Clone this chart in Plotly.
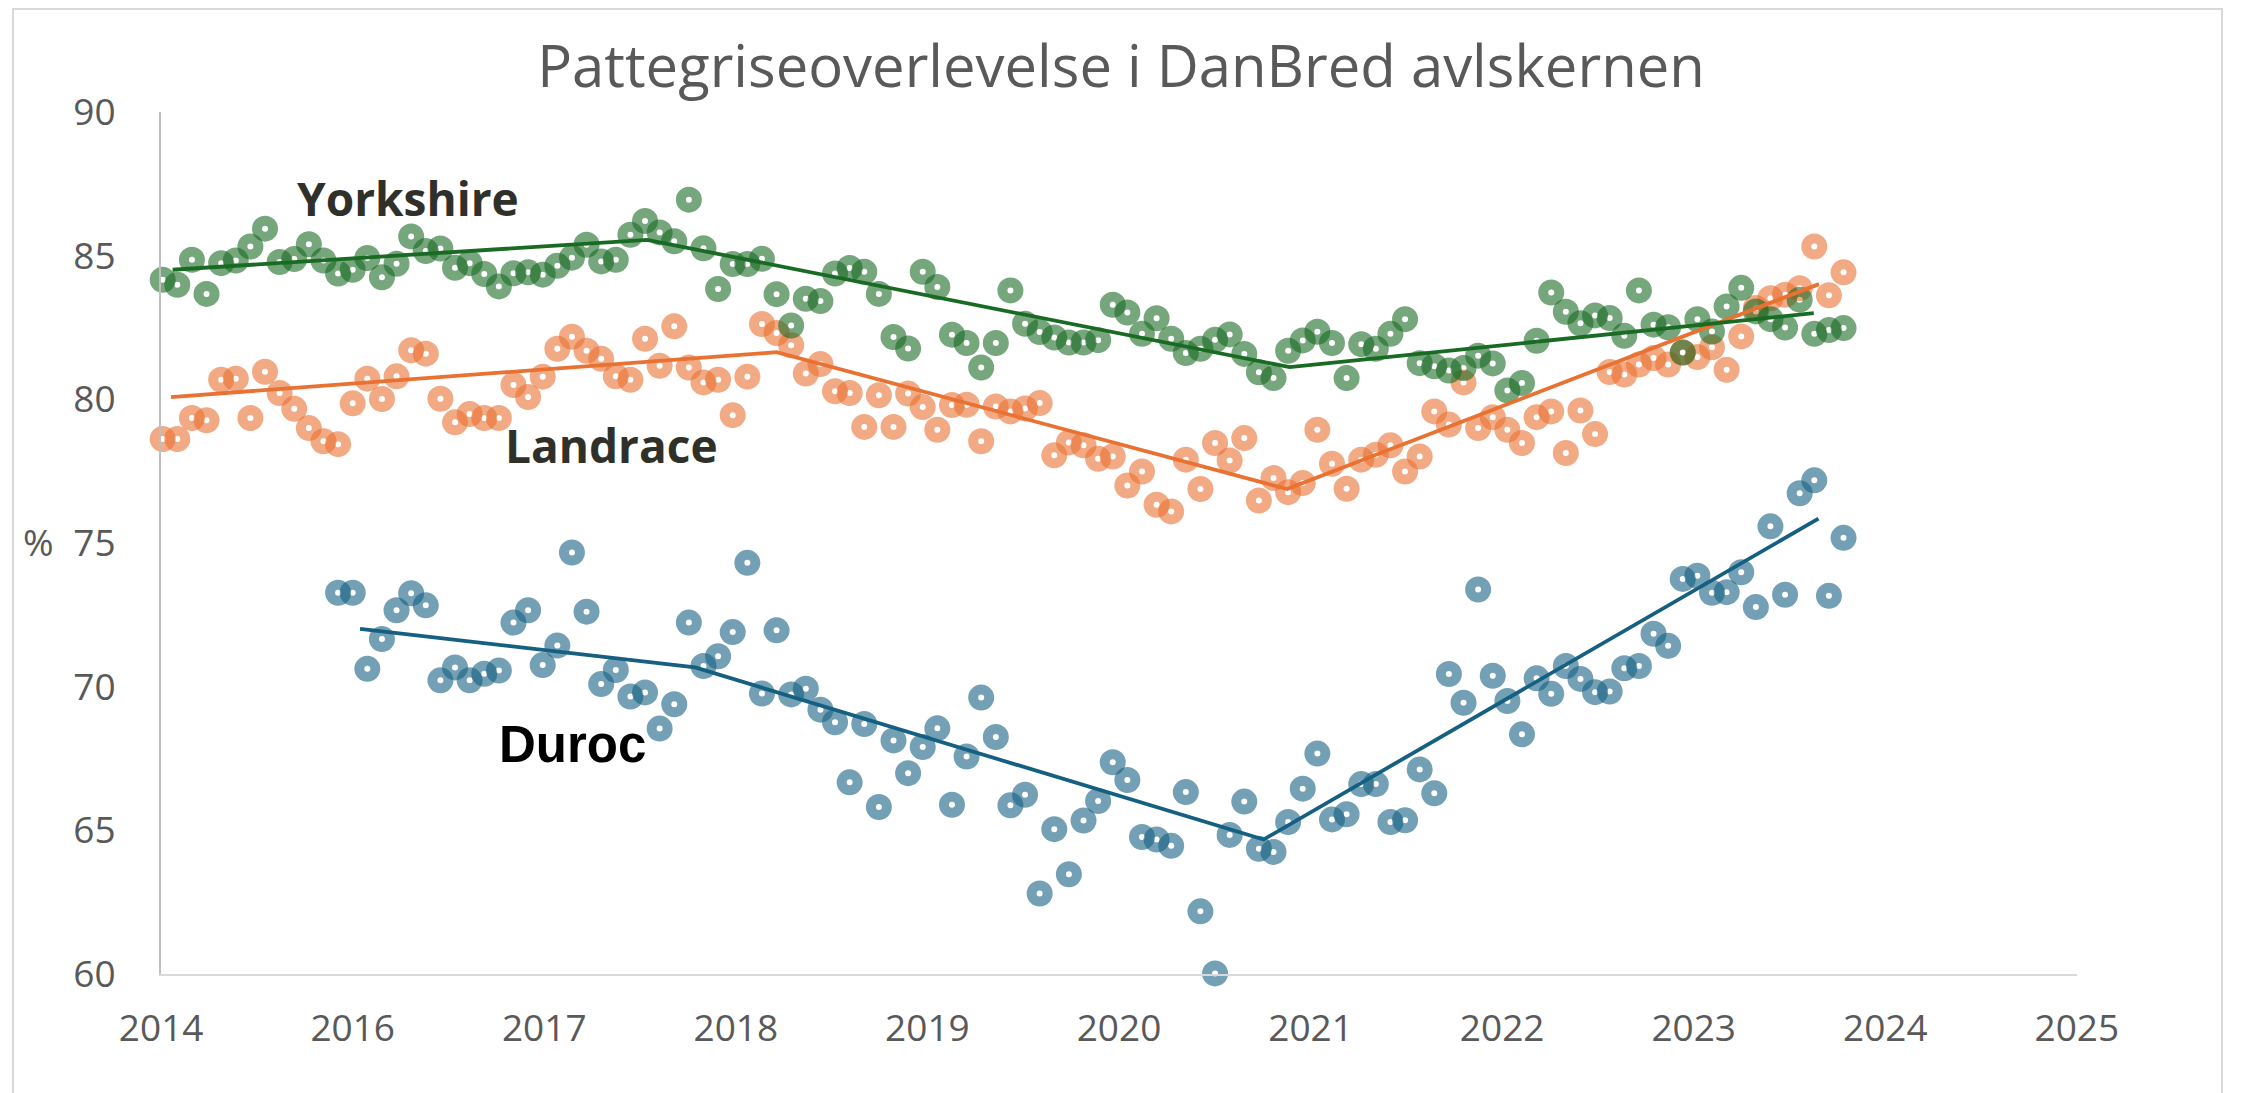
import plotly.graph_objects as go
import pandas as pd

# ---------------- data ----------------
yorkshire = [84.16, 83.99, 84.86, 83.67, 84.74, 84.83, 85.32, 85.94, 84.78, 84.88,
             85.40, 84.83, 84.38, 84.51, 84.92, 84.25, 84.72, 85.67, 85.16, 85.25,
             84.58, 84.74, 84.36, 83.93, 84.39, 84.42, 84.34, 84.65, 84.93, 85.38,
             84.80, 84.86, 85.73, 86.21, 85.81, 85.50, 86.95, 85.26, 83.84, 84.71,
             84.71, 84.89, 83.66, 82.57, 83.50, 83.42, 84.38, 84.57, 84.44, 83.67,
             82.17, 81.77, 84.44, 83.91, 82.25, 81.96, 81.11, 81.96, 83.79, 82.63,
             82.34, 82.15, 81.98, 81.98, 82.06, 83.29, 83.02, 82.28, 82.82, 82.11,
             81.61, 81.76, 82.07, 82.26, 81.58, 80.94, 80.74, 81.69, 82.05, 82.35,
             81.96, 80.74, 81.92, 81.76, 82.28, 82.79, 81.26, 81.15, 81.00, 81.09,
             81.52, 81.25, 80.31, 80.57, 82.04, 83.72, 83.05, 82.65, 82.92, 82.83,
             82.21, 83.79, 82.60, 82.51, 81.63, 82.79, 82.36, 83.23, 83.88, 83.06,
             82.79, 82.50, 83.47, 82.28, 82.41, 82.48]

landrace = [78.62, 78.62, 79.35, 79.27, 80.68, 80.72, 79.35, 80.96, 80.22, 79.67,
            79.00, 78.54, 78.44, 79.86, 80.72, 80.01, 80.80, 81.71, 81.59, 80.02,
            79.20, 79.49, 79.35, 79.35, 80.50, 80.08, 80.79, 81.76, 82.18, 81.69,
            81.41, 80.80, 80.68, 82.11, 81.17, 82.54, 81.11, 80.59, 80.68, 79.45,
            80.79, 82.62, 82.31, 81.88, 80.90, 81.23, 80.28, 80.22, 79.04, 80.14,
            79.04, 80.20, 79.73, 78.94, 79.80, 79.81, 78.54, 79.75, 79.58, 79.68,
            79.87, 78.05, 78.50, 78.40, 77.93, 78.01, 77.00, 77.49, 76.33, 76.10,
            77.90, 76.88, 78.48, 77.87, 78.65, 76.48, 77.26, 76.77, 77.09, 78.94,
            77.76, 76.89, 77.90, 78.07, 78.40, 77.49, 78.01, 79.58, 79.12, 80.59,
            79.00, 79.38, 78.94, 78.48, 79.38, 79.58, 78.13, 79.61, 78.79, 80.95,
            80.86, 81.21, 81.44, 81.21, 81.63, 81.47, 81.81, 81.03, 82.19, 83.18,
            83.52, 83.64, 83.87, 85.32, 83.62, 84.42]

duroc = [73.27, 73.27, 70.62, 71.66, 72.66, 73.25, 72.83, 70.22, 70.67, 70.22,
         70.45, 70.56, 72.23, 72.66, 70.75, 71.43, 74.67, 72.61, 70.09, 70.58,
         69.66, 69.80, 68.54, 69.39, 72.23, 70.72, 71.06, 71.90, 74.31, 69.76,
         71.96, 69.73, 69.93, 69.20, 68.76, 66.67, 68.70, 65.81, 68.13, 66.99,
         67.90, 68.55, 65.89, 67.57, 69.62, 68.25, 65.87, 66.24, 62.80, 65.04,
         63.47, 65.34, 66.02, 67.37, 66.75, 64.77, 64.68, 64.46, 66.33, 62.18,
         60.02, 64.84, 66.00, 64.36, 64.25, 65.29, 66.45, 67.67, 65.38, 65.56,
         66.61, 66.61, 65.29, 65.35, 67.12, 66.29, 70.44, 69.44, 73.38, 70.38,
         69.50, 68.34, 70.29, 69.75, 70.72, 70.27, 69.81, 69.83, 70.64, 70.72,
         71.84, 71.42, 73.75, 73.86, 73.27, 73.29, 73.98, 72.77, 75.58, 73.20,
         76.73, 77.18, 73.16, 75.18]

# 4-week periods; Yorkshire/Landrace start early Jan 2015, Duroc 12 periods later
first_period = "2015-01-03"
period_length = "28D"
duroc_first_period = "2015-12-05"

# broken-stick trend lines (vertices)
yorkshire_trend_x = ["2015-01-22", "2017-07-19", "2020-12-01", "2023-09-01"]
yorkshire_trend_y = [84.51, 85.55, 81.12, 83.00]
landrace_trend_x = ["2015-01-19", "2018-03-24", "2020-11-26", "2023-09-11"]
landrace_trend_y = [80.08, 81.64, 76.88, 84.01]
duroc_trend_x = ["2016-01-16", "2017-10-19", "2020-10-12", "2023-09-10"]
duroc_trend_y = [72.01, 70.67, 64.68, 75.85]

title = "Pattegriseoverlevelse i DanBred avlskernen"
y_title = "%"
series_names = ["Yorkshire", "Landrace", "Duroc"]

# x axis: Excel-like date axis, min 2014-12-31, major unit 367 days
x_axis_start = "2014-12-30 18:00"
x_axis_end = "2025-01-17 06:00"
x_tick0 = "2014-12-31"
x_tick_days = 367

# ---------------- styling ----------------
col_y = "#196B24"
col_l = "#E97132"
col_d = "#156082"
grey = "#595959"

yk_dates = pd.date_range(first_period, periods=len(yorkshire), freq=period_length)
ld_dates = pd.date_range(first_period, periods=len(landrace), freq=period_length)
dr_dates = pd.date_range(duroc_first_period, periods=len(duroc), freq=period_length)

fig = go.Figure()

def markers(x, y, color, name):
    return go.Scatter(
        x=x, y=y, mode="markers", name=name, cliponaxis=False,
        marker=dict(symbol="circle-open", size=16, color=color, opacity=0.6,
                    line=dict(width=10, color=color)),
        hoverinfo="x+y",
    )

def trend(x, y, color, name):
    return go.Scatter(x=x, y=y, mode="lines", name=name + " trend",
                      line=dict(color=color, width=3.8), cliponaxis=False)

fig.add_trace(markers(dr_dates, duroc, col_d, "Duroc"))
fig.add_trace(markers(ld_dates, landrace, col_l, "Landrace"))
fig.add_trace(markers(yk_dates, yorkshire, col_y, "Yorkshire"))
fig.add_trace(trend(duroc_trend_x, duroc_trend_y, col_d, "Duroc"))
fig.add_trace(trend(landrace_trend_x, landrace_trend_y, col_l, "Landrace"))
fig.add_trace(trend(yorkshire_trend_x, yorkshire_trend_y, col_y, "Yorkshire"))

# page is 2242x1093; the html body has an 8 px default margin
OFF = 8
W, H = 2242 - OFF, 1093 - OFF
PLOT_L, PLOT_R, PLOT_T, PLOT_B = 161, 2077, 112, 974   # page coordinates
L, T = PLOT_L - OFF, PLOT_T - OFF
R, B = 2242 - PLOT_R, 1093 - PLOT_B

fig.update_layout(
    width=W, height=H,
    margin=dict(l=L, r=R, t=T, b=B, pad=0, autoexpand=False),
    paper_bgcolor="white", plot_bgcolor="white",
    showlegend=False,
    title=dict(text=title, x=(1121 - OFF) / W, xref="container", xanchor="center",
               y=1 - (67 - OFF) / H, yref="container", yanchor="middle",
               font=dict(family="Open Sans", size=58, color=grey)),
    xaxis=dict(
        type="date", range=[x_axis_start, x_axis_end],
        tickmode="linear", tick0=x_tick0, dtick=x_tick_days * 86400000,
        tickformat="%Y", showgrid=False, zeroline=False,
        showline=True, linecolor="#d9d9d9", linewidth=2,
        ticks="", ticklabelstandoff=21,
        tickfont=dict(family="Open Sans", size=37, color=grey),
    ),
    yaxis=dict(
        range=[60, 90], tickmode="linear", tick0=60, dtick=5,
        showgrid=False, zeroline=False,
        showline=True, linecolor="#bfbfbf", linewidth=2,
        ticks="", ticklabelstandoff=36,
        tickfont=dict(family="Open Sans", size=37, color=grey),
    ),
)

pw = PLOT_R - PLOT_L
ph = PLOT_B - PLOT_T

def px(xp):
    return (xp - PLOT_L) / pw

def py(yp):
    return (PLOT_B - yp) / ph

def label(text, x, y, family, size, color):
    fig.add_annotation(text=text, x=px(x), y=py(y), xref="paper", yref="paper",
                       xanchor="center", yanchor="middle", showarrow=False,
                       font=dict(family=family, size=size, color=color))

label("<b>%s</b>" % series_names[0], 408, 198, "Open Sans", 46, "#30302b")
label("<b>%s</b>" % series_names[1], 611, 445, "Open Sans", 46, "#30302b")
label("<b>%s</b>" % series_names[2], 572, 744, "Liberation Sans", 51, "black")
label(y_title, 39, 541, "Open Sans", 37, grey)

# light chart-area border
fig.add_shape(type="rect", xref="paper", yref="paper",
              x0=px(13), x1=px(2222), y0=py(1110), y1=py(9),
              line=dict(color="#d9d9d9", width=2), fillcolor="rgba(0,0,0,0)",
              layer="below")

fig.write_html("out.html")
